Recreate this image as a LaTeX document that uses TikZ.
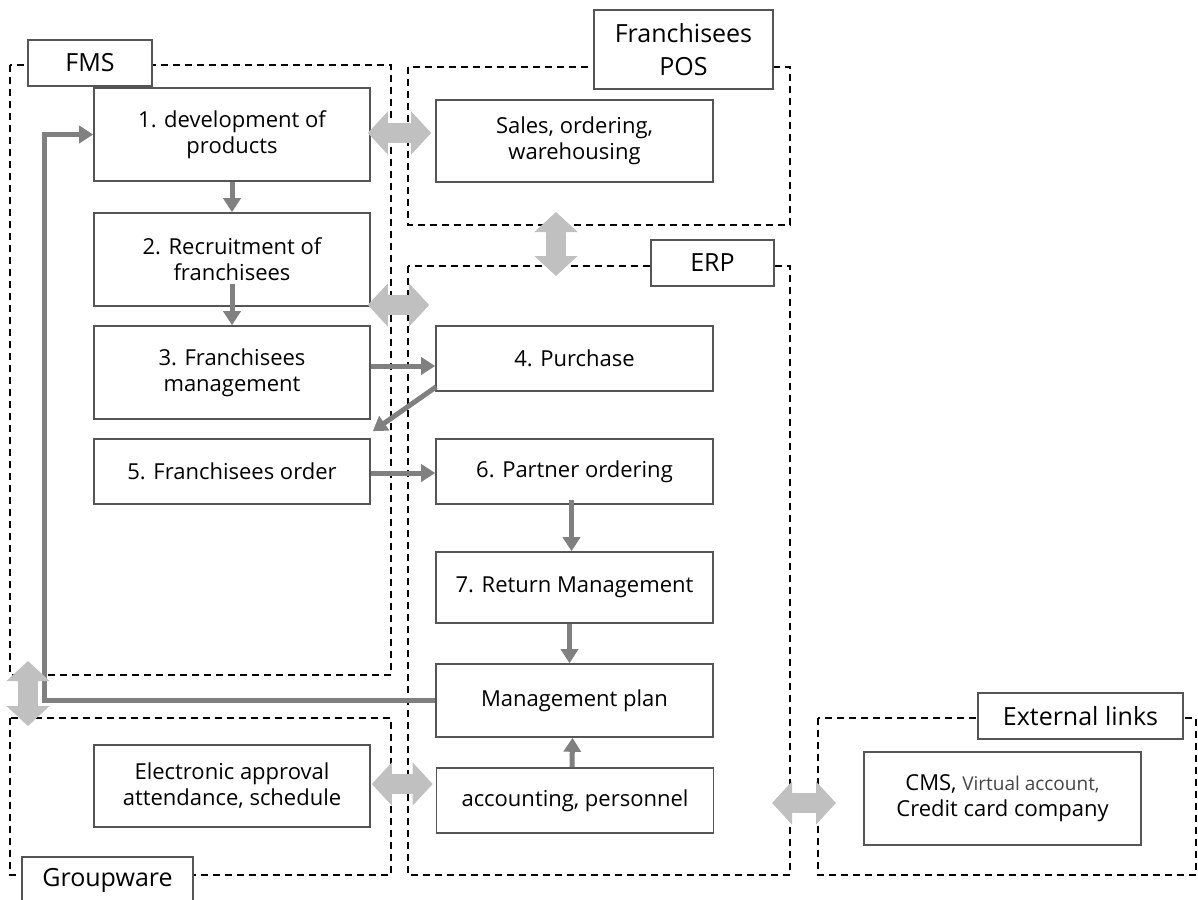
\documentclass[tikz,border=0pt]{standalone}
\usepackage{fontspec}
\setmainfont{Open Sans}
\usetikzlibrary{arrows.meta,calc}
\definecolor{boxline}{RGB}{85,85,85}
\definecolor{arrowgray}{RGB}{128,128,128}
\definecolor{lightarrow}{RGB}{192,192,192}
\definecolor{softtext}{RGB}{70,70,70}
\tikzset{
  procbox/.style={draw=boxline, line width=1.6pt, fill=white, align=center, inner sep=0pt,
    font=\fontsize{22}{26}\selectfont},
  labelbox/.style={draw=boxline, line width=1.6pt, fill=white, align=center, inner sep=0pt,
    font=\fontsize{25}{33}\selectfont},
  region/.style={draw=black, line width=1.5pt, dash pattern=on 7pt off 5pt},
  flow/.style={draw=arrowgray, line width=5pt, -{Triangle[width=17pt,length=14pt]}},
  link/.style={draw=lightarrow, line width=20pt,
    {Triangle[width=42pt,length=20pt]}-{Triangle[width=42pt,length=20pt]}},
}
\begin{document}
\begin{tikzpicture}[x=1pt,y=-1pt]
\useasboundingbox[fill=white] (0,0) rectangle (1198,899);
% dashed regions
\draw[region] (10,65) rectangle (391,675);
\draw[region] (408,67) rectangle (790,225);
\draw[region] (408,266) rectangle (790,875);
\draw[region] (10,718) rectangle (391,875);
\draw[region] (818,718) rectangle (1196,875);
% region link end points
\coordinate (posB) at (556,212);
\coordinate (erpT) at (556,276);
\coordinate (fmsB) at (28,661);
\coordinate (gwT) at (28,726);
\coordinate (erpR) at (772,803);
\coordinate (extL) at (836,803);
% group labels
\node[labelbox, minimum width=124pt, minimum height=46pt] (fmsl) at (90,63) {FMS};
\node[labelbox, minimum width=179pt, minimum height=79pt] (posl) at (683.5,49.5) {Franchisees\\POS};
\node[labelbox, minimum width=123pt, minimum height=46pt] (erpl) at (712.5,263) {ERP};
\node[labelbox, minimum width=171pt, minimum height=46pt] (gwl) at (107.5,880) {Groupware};
\node[labelbox, minimum width=205pt, minimum height=46pt] (extl) at (1080.5,716) {External links};
% process boxes
\node[procbox, minimum width=276pt, minimum height=93pt] (p1) at (232,134.5) {1. development of\\products};
\node[procbox, minimum width=276pt, minimum height=93pt] (p2) at (232,259.5) {2. Recruitment of\\franchisees};
\node[procbox, minimum width=276pt, minimum height=93pt] (p3) at (232,372.5) {3. Franchisees\\management};
\node[procbox, minimum width=276pt, minimum height=65pt] (p5) at (232,471.5) {5. Franchisees order};
\node[procbox, minimum width=277pt, minimum height=82pt] (sales) at (574.5,141) {Sales, ordering,\\warehousing};
\node[procbox, minimum width=277pt, minimum height=65pt] (p4) at (574.5,358.5) {4. Purchase};
\node[procbox, minimum width=277pt, minimum height=65pt] (p6) at (574.5,471.5) {6. Partner ordering};
\node[procbox, minimum width=277pt, minimum height=71pt] (p7) at (574.5,587.5) {7. Return Management};
\node[procbox, minimum width=277pt, minimum height=73pt] (mp) at (574.5,700.5) {Management plan};
\node[procbox, minimum width=277pt, minimum height=65pt] (acc) at (575,800.5) {accounting, personnel};
\node[procbox, minimum width=276pt, minimum height=82pt] (elec) at (232,786) {Electronic approval\\attendance, schedule};
\node[procbox, minimum width=277pt, minimum height=93pt] (cms) at (1002.5,798.5) {CMS, {\fontsize{19}{26}\selectfont\color{softtext}Virtual account,}\\Credit card company};
% flow arrows
\draw[flow] (p1.south) -- (p2.north);
\draw[flow] ($(p2.south)+(0,-23)$) -- (p3.north);
\draw[flow] ($(p3.east)+(0,-6.5)$) -- ($(p4.west)+(0,7.5)$);
\draw[flow] ($(p4.south west)+(1,-5)$) -- ($(p5.north east)+(2,-7)$);
\draw[flow] ($(p5.east)+(0,1.5)$) -- ($(p6.west)+(0,1.5)$);
\draw[flow] ($(p6.south)+(-3,-5)$) -- ($(p7.north)+(-3,0)$);
\draw[flow] ($(p7.south)+(-5,0)$) -- ($(mp.north)+(-5,0)$);
\draw[flow] ($(acc.north)+(-3,0)$) -- ($(mp.south)+(-2,0)$);
\coordinate (fbk) at (44,700.5);
\draw[flow] (mp.west) -- (fbk) -- (fbk |- p1.west) -- (p1.west);
% link arrows
\draw[link] ($(p1.east)+(-3,-1.5)$) -- ($(sales.west)+(-4,-8)$);
\draw[link] ($(p2.east)+(-3,45.5)$) -- ($(p4.west)+(-6,-53.5)$);
\draw[link] (posB) -- (erpT);
\draw[link] (fmsB) -- (gwT);
\draw[link] ($(elec.east)+(1,-2)$) -- ($(acc.west)+(-3,-16.5)$);
\draw[link] (erpR) -- (extL);
\end{tikzpicture}
\end{document}
